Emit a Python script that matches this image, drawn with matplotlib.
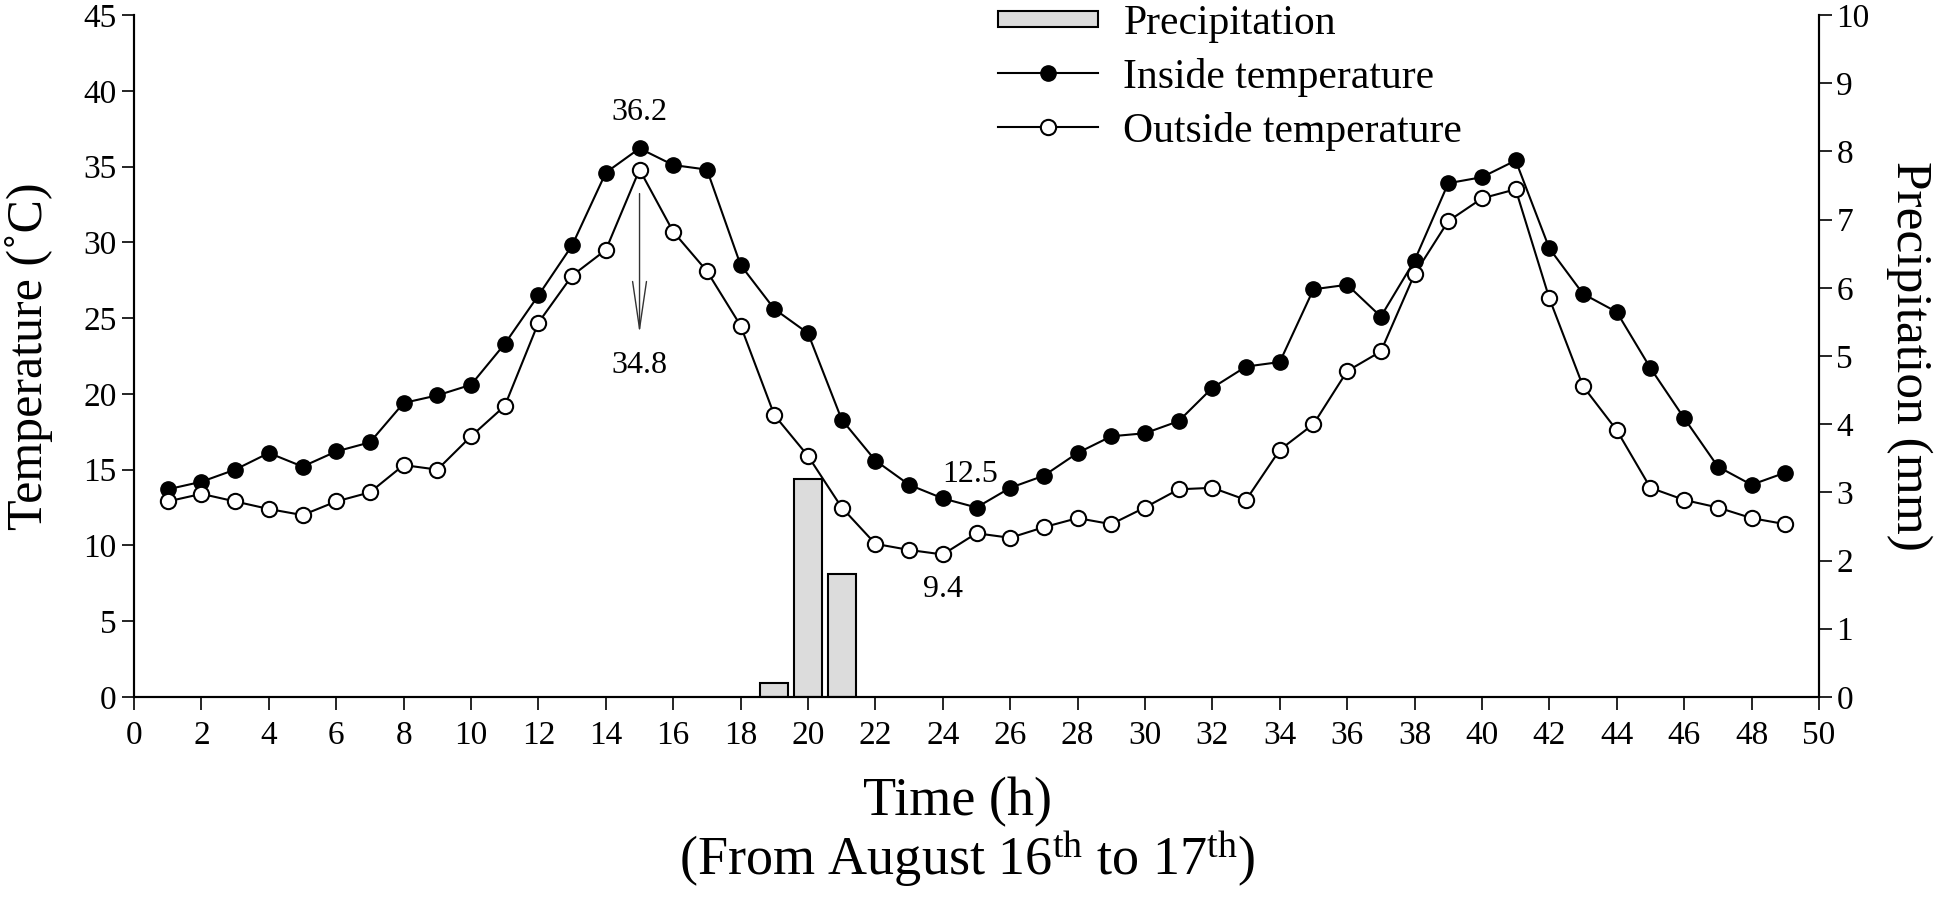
import matplotlib
matplotlib.use('agg')
import matplotlib.pyplot as plt
import matplotlib.patches as mpatches
from matplotlib.legend_handler import HandlerPatch
import numpy as np

plt.rcParams['font.family'] = ['Liberation Serif', 'DejaVu Serif']
plt.rcParams['mathtext.fontset'] = 'custom'
plt.rcParams['mathtext.rm'] = 'Liberation Serif'
plt.rcParams['mathtext.it'] = 'Liberation Serif:italic'

# Hours of the record (August 16th to 17th)
hours = list(range(1, 50))

inside_temp = [13.7, 14.2, 15.0, 16.1, 15.2, 16.2, 16.8, 19.4, 19.9, 20.6,
               23.3, 26.5, 29.8, 34.6, 36.2, 35.1, 34.8, 28.5, 25.6, 24.0,
               18.3, 15.6, 14.0, 13.1, 12.5, 13.8, 14.6, 16.1, 17.2, 17.4,
               18.2, 20.4, 21.8, 22.1, 26.9, 27.2, 25.1, 28.8, 33.9, 34.3,
               35.4, 29.6, 26.6, 25.4, 21.7, 18.4, 15.2, 14.0, 14.8]

outside_temp = [12.9, 13.4, 12.9, 12.4, 12.0, 12.9, 13.5, 15.3, 15.0, 17.2,
                19.2, 24.7, 27.8, 29.5, 34.8, 30.7, 28.1, 24.5, 18.6, 15.9,
                12.5, 10.1, 9.7, 9.4, 10.8, 10.5, 11.2, 11.8, 11.4, 12.5,
                13.7, 13.8, 13.0, 16.3, 18.0, 21.5, 22.8, 27.9, 31.4, 32.9,
                33.5, 26.3, 20.5, 17.6, 13.8, 13.0, 12.5, 11.8, 11.4]

precip_hours = [19, 20, 21]
precip_mm = [0.2, 3.2, 1.8]

fig = plt.figure(figsize=(19.46, 9.11), dpi=100)
ax = fig.add_axes([0.0689, 0.235, 0.8658, 0.7485])
ax2 = ax.twinx()

# precipitation bars on the right axis, drawn behind the temperature lines
ax2.bar(precip_hours, precip_mm, width=0.84, color='#dcdcdc', edgecolor='black',
        linewidth=1.5, label='Precipitation', zorder=1)
ax2.set_ylim(0, 10)
ax2.set_yticks(range(0, 11))

ax.set_zorder(ax2.get_zorder() + 1)
ax.patch.set_visible(False)

l1, = ax.plot(hours, inside_temp, '-o', color='black', lw=1.5, ms=11,
              mfc='black', mec='black', label='Inside temperature')
l2, = ax.plot(hours, outside_temp, '-o', color='black', lw=1.5, ms=11,
              mfc='white', mec='black', mew=1.5, label='Outside temperature')

ax.set_xlim(0, 50)
ax.set_ylim(0, 45)
ax.set_xticks(range(0, 51, 2))
ax.set_yticks(range(0, 46, 5))

for a in (ax, ax2):
    a.spines['top'].set_visible(False)
    a.tick_params(direction='out', length=9, width=1.2, labelsize=24)
    for s in a.spines.values():
        s.set_linewidth(1.5)
ax.tick_params(axis='x', pad=8)

ax.set_ylabel('Temperature (˚C)', fontsize=36, labelpad=22)
ax2.set_ylabel('Precipitation (mm)', fontsize=37, rotation=270, labelpad=45)

fig.text(0.492, 0.120, 'Time (h)', fontsize=39, ha='center', va='center')
fig.text(0.497, 0.058, r'(From August 16$^{\mathrm{th}}$ to 17$^{\mathrm{th}}$)',
         fontsize=39, ha='center', va='center')

# annotations of extremes
ax.text(15, 38.6, '36.2', fontsize=23, ha='center', va='center')
ax.annotate('', xy=(15, 23.8), xytext=(15, 33.4),
            arrowprops=dict(arrowstyle='->,head_length=1.7,head_width=0.25',
                            lw=1.0, color='#333333', mutation_scale=20))
ax.text(15, 21.9, '34.8', fontsize=23, ha='center', va='center')
ax.text(24.8, 14.7, '12.5', fontsize=23, ha='center', va='center')
ax.text(24.0, 7.1, '9.4', fontsize=23, ha='center', va='center')


def slim_bar(legend, orig_handle, xdescent, ydescent, width, height, fontsize):
    return mpatches.Rectangle((-xdescent, -ydescent + 0.22 * height), width, 0.56 * height)


bars = ax2.patches[0]
leg = ax.legend([bars, l1, l2], ['Precipitation', 'Inside temperature', 'Outside temperature'],
                loc='upper left', bbox_to_anchor=(0.513, 1.016), frameon=False,
                borderaxespad=0, borderpad=0,
                fontsize=30, handlelength=2.4, handletextpad=0.6, labelspacing=0.36,
                handler_map={mpatches.Rectangle: HandlerPatch(patch_func=slim_bar)})

plt.savefig('out.png', dpi=100)
